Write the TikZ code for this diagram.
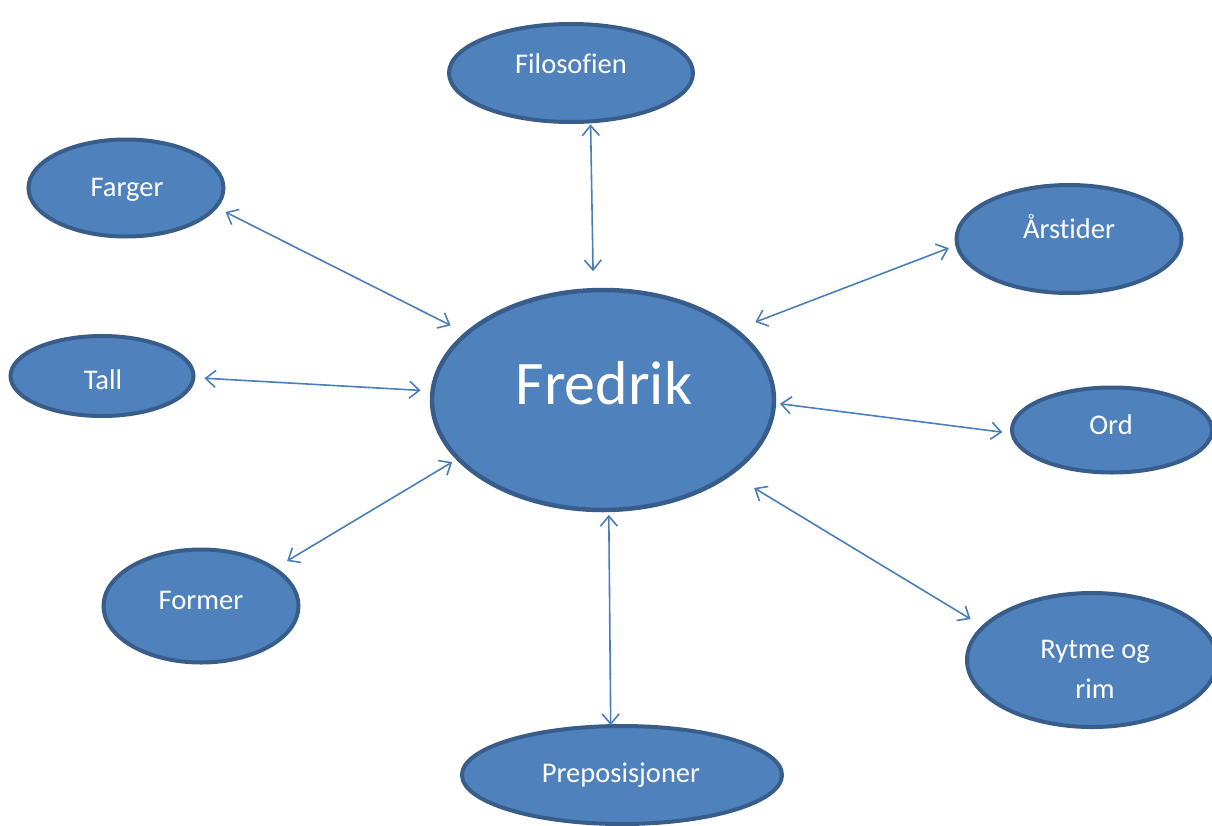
\documentclass[tikz,border=0pt]{standalone}
\usepackage{fontspec}
\setmainfont{Carlito}[Ligatures=NoCommon]
\usetikzlibrary{shapes.geometric,arrows.meta}
\definecolor{bubblefill}{HTML}{4F81BD}
\definecolor{bubbleedge}{HTML}{385D8A}
\definecolor{linkblue}{HTML}{4A7EBB}
\tikzset{
    bubble/.style={ellipse, draw=bubbleedge, line width=4pt, fill=bubblefill, inner sep=0pt, outer sep=0pt},
    lbl/.style={text=white, font=\fontsize{28.5}{40}\selectfont, align=center, inner sep=0pt},
    link/.style={linkblue, line width=1.6pt, {Straight Barb[length=10pt,width=17pt]}-{Straight Barb[length=10pt,width=17pt]}}
}
\begin{document}
\begin{tikzpicture}[x=1pt, y=-1pt]
    \useasboundingbox (0, 0) rectangle (1212, 825);

    % centre
    \node (fredrik) [bubble, line width=4.5pt, minimum width=342, minimum height=220] at (603, 400) {};
    \node (fredrik-t) [lbl, font=\fontsize{62}{70}\selectfont] at (604, 383) {Fredrik};

    % outer ring
    \node (filosofien) [bubble, minimum width=244, minimum height=98] at (571, 73) {};
    \node (filosofien-t) [lbl] at (571, 64) {Filosof\kern0pt ien};
    \node (farger) [bubble, minimum width=195, minimum height=97] at (126, 188) {};
    \node (farger-t) [lbl] at (127, 190) {Farger};
    \node (arstider) [bubble, minimum width=225, minimum height=108] at (1069, 239) {};
    \node (arstider-t) [lbl] at (1069, 227) {Årst\kern0pt ider};
    \node (tall) [bubble, minimum width=183, minimum height=80] at (102, 376) {};
    \node (tall-t) [lbl] at (103, 380) {Tall};
    \node (ord) [bubble, minimum width=200, minimum height=85] at (1112, 430) {};
    \node (ord-t) [lbl] at (1111, 425) {Ord};
    \node (former) [bubble, minimum width=195, minimum height=113] at (201, 606) {};
    \node (former-t) [lbl] at (201, 600) {Former};
    \node (rytme) [bubble, minimum width=250, minimum height=134] at (1092, 660) {};
    \node (rytme-t) [lbl] at (1095, 669) {Rytme og\\rim};
    \node (preposisjoner) [bubble, minimum width=320, minimum height=98] at (622, 775) {};
    \node (preposisjoner-t) [lbl] at (621, 775) {Preposisjoner};

    % links
    \draw[link, shorten <=3pt, shorten >=19pt] (filosofien.-68.6) -- (fredrik.95.3);
    \draw[link, shorten <=11pt, shorten >=18pt] (farger.-12.4) -- (fredrik.154.2);
    \draw[link, shorten <=9pt, shorten >=22pt] (arstider.-177.6) -- (fredrik.28.7);
    \draw[link, shorten <=11pt, shorten >=12pt] (tall.-1.1) -- (fredrik.177.8);
    \draw[link, shorten <=10pt, shorten >=6pt] (ord.182.1) -- (fredrik.-1.6);
    \draw[link, shorten <=15pt, shorten >=7pt] (former.27.6) -- (fredrik.-158.5);
    \draw[link, shorten <=15pt, shorten >=28pt] (rytme.163.8) -- (fredrik.-30.9);
    \draw[link, shorten <=1pt, shorten >=5pt] (preposisjoner.103.8) -- (fredrik.-87.5);
\end{tikzpicture}
\end{document}
